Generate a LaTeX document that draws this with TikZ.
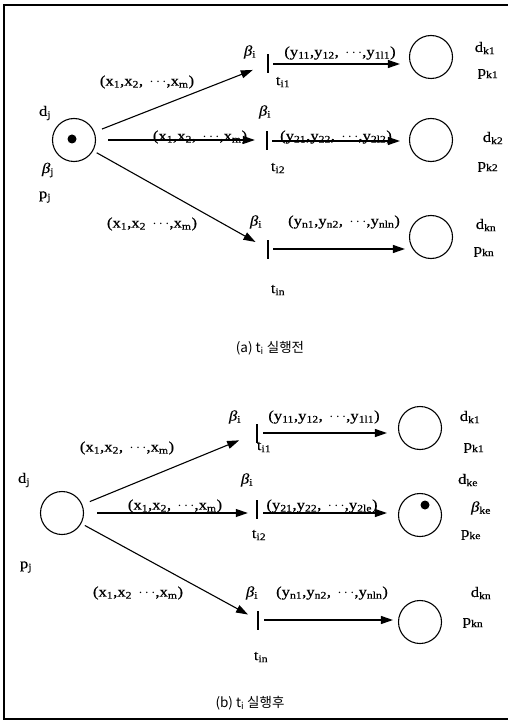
\documentclass[tikz,border=0pt]{standalone}
\usepackage{fontspec}
\setmainfont{Liberation Serif}[FakeStretch=1.15, FakeBold=0.5]
\newfontfamily\krfont{Noto Sans CJK KR}
\usetikzlibrary{arrows.meta}
\newcommand\sbs[1]{\textsubscript{#1}}
\newcommand\bt{{\itshape β}}
\tikzset{
  place/.style={circle, draw, line width=1.1pt, minimum size=43pt, inner sep=0pt},
  trans/.style={rectangle, fill=black, minimum width=2pt, minimum height=19pt, inner sep=0pt},
  arc/.style={line width=1.1pt, -{Triangle[length=12pt,width=8pt]}},
  lab/.style={font=\fontsize{14.5}{16}\selectfont, inner sep=0pt},
  captext/.style={font=\krfont\fontsize{13.5}{15}\selectfont, inner sep=0pt},
  tok/.style={circle, fill=black, minimum size=9pt, inner sep=0pt},
}
\begin{document}
\begin{tikzpicture}[x=1pt, y=-1pt]
\useasboundingbox (0,0) rectangle (508,722);
\draw[line width=1.4pt] (508,5) -- (4,5) -- (4,719) -- (508,719);
% ---------------- panel (a) ----------------
\node[place] (Pa) at (74,140) {};
\node[tok] (Ta) at (72,139) {};
\node[lab] (daj) at (45,113) {d\sbs{j}};
\node[lab] (baj) at (48,170) {\bt\sbs{j}};
\node[lab] (paj) at (45,197) {p\sbs{j}};
% row 1
\node[trans] (ta1) at (268,64) {};
\node[place] (Pa1) at (431,57) {};
\node[lab] (ba1) at (250,52) {\bt\sbs{i}};
\node[lab] (tla1) at (283,82) {t\sbs{i1}};
\node[lab] (xa1) at (147,82) {(x\sbs{1},x\sbs{2},\, $\cdots$,x\sbs{m})};
\node[lab] (ya1) at (340,53) {(y\sbs{11},y\sbs{12},\, $\cdots$,y\sbs{1l1})};
\node[lab] (dka1) at (485,48) {d\sbs{k1}};
\node[lab] (pka1) at (488,74) {p\sbs{k1}};
\draw[arc, shorten <=8pt, shorten >=15pt] (Pa) -- (ta1);
\draw[arc, shorten <=4pt, shorten >=9pt] (ta1.east) -- (ta1.east -| Pa1.west);
% row 2
\node[trans] (ta2) at (267,141) {};
\node[place] (Pa2) at (431,140) {};
\node[lab] (ba2) at (265,112) {\bt\sbs{i}};
\node[lab] (tla2) at (278,168) {t\sbs{i2}};
\node[lab] (xa2) at (200,137) {(x\sbs{1},x\sbs{2},\, $\cdots$,x\sbs{m})};
\node[lab] (ya2) at (336,137) {(y\sbs{21},y\sbs{22},\, $\cdots$,y\sbs{2l2})};
\node[lab] (dka2) at (493,138) {d\sbs{k2}};
\node[lab] (pka2) at (488,167) {p\sbs{k2}};
\draw[arc, shorten <=12pt, shorten >=11pt] (Pa) -- (Pa -| ta2.west);
\draw[arc, shorten <=4pt, shorten >=9pt] (ta2.east) -- (ta2.east -| Pa2.west);
% row 3
\node[trans] (ta3) at (268,249) {};
\node[place] (Pa3) at (431,237) {};
\node[lab] (ba3) at (256,222) {\bt\sbs{i}};
\node[lab] (tla3) at (278,290) {t\sbs{in}};
\node[lab] (xa3) at (152,224) {(x\sbs{1},x\sbs{2}\, $\cdots$,x\sbs{m})};
\node[lab] (ya3) at (344,222) {(y\sbs{n1},y\sbs{n2},\, $\cdots$,y\sbs{nln})};
\node[lab] (dka3) at (486,225) {d\sbs{kn}};
\node[lab] (pka3) at (484,252) {p\sbs{kn}};
\draw[arc, shorten <=4pt, shorten >=13pt] (Pa) -- (ta3);
\draw[arc, shorten <=4pt, shorten >=4pt] (ta3.east) -- (ta3.east -| Pa3.west);
\node[captext] (capa) at (270,348) {(a) t\textsubscript{i} 실행전};
% ---------------- panel (b) ----------------
\node[place] (Pb) at (62,513) {};
\node[lab] (dbj) at (24,480) {d\sbs{j}};
\node[lab] (pbj) at (26,567) {p\sbs{j}};
% row 1
\node[trans] (tb1) at (257,433) {};
\node[place] (Pb1) at (420,428) {};
\node[lab] (bb1) at (235,417) {\bt\sbs{i}};
\node[lab] (tlb1) at (264,447) {t\sbs{i1}};
\node[lab] (xb1) at (127,448) {(x\sbs{1},x\sbs{2},\, $\cdots$,x\sbs{m})};
\node[lab] (yb1) at (324,417) {(y\sbs{11},y\sbs{12},\, $\cdots$,y\sbs{1l1})};
\node[lab] (dkb1) at (470,417) {d\sbs{k1}};
\node[lab] (pkb1) at (474,448) {p\sbs{k1}};
\draw[arc, shorten <=8pt, shorten >=18pt] (Pb) -- (tb1);
\draw[arc, shorten <=5pt, shorten >=11pt] (tb1.east) -- (tb1.east -| Pb1.west);
% row 2
\node[trans] (tb2) at (257,509) {};
\node[place] (Pb2) at (420,515) {};
\node[tok] (Tb2) at (425,505) {};
\node[lab] (bb2) at (247,480) {\bt\sbs{i}};
\node[lab] (tlb2) at (259,535) {t\sbs{i2}};
\node[lab] (xb2) at (175,506) {(x\sbs{1},x\sbs{2},\, $\cdots$,x\sbs{m})};
\node[lab] (yb2) at (322,506) {(y\sbs{21},y\sbs{22},\, $\cdots$,y\sbs{2le})};
\node[lab] (dkb2) at (468,480) {d\sbs{ke}};
\node[lab] (bkb2) at (481,508) {\bt\sbs{ke}};
\node[lab] (pkb2) at (471,535) {p\sbs{ke}};
\draw[arc, shorten <=13pt, shorten >=8pt] (Pb) -- (Pb -| tb2.west);
\draw[arc, shorten <=5pt, shorten >=11pt] (tb2.east |- Pb) -- (Pb -| Pb2.west);
% row 3
\node[trans] (tb3) at (258,620) {};
\node[place] (Pb3) at (420,622) {};
\node[lab] (bb3) at (252,593) {\bt\sbs{i}};
\node[lab] (tlb3) at (261,657) {t\sbs{in}};
\node[lab] (xb3) at (138,593) {(x\sbs{1},x\sbs{2}\, $\cdots$,x\sbs{m})};
\node[lab] (yb3) at (332,593) {(y\sbs{n1},y\sbs{n2},\, $\cdots$,y\sbs{nln})};
\node[lab] (dkb3) at (481,593) {d\sbs{kn}};
\node[lab] (pkb3) at (473,623) {p\sbs{kn}};
\draw[arc, shorten <=4pt, shorten >=10pt] (Pb) -- (tb3);
\draw[arc, shorten <=5pt, shorten >=5pt] (tb3.east) -- (tb3.east -| Pb3.west);
\node[captext] (capb) at (250,703) {(b) t\textsubscript{i} 실행후};
\end{tikzpicture}
\end{document}
